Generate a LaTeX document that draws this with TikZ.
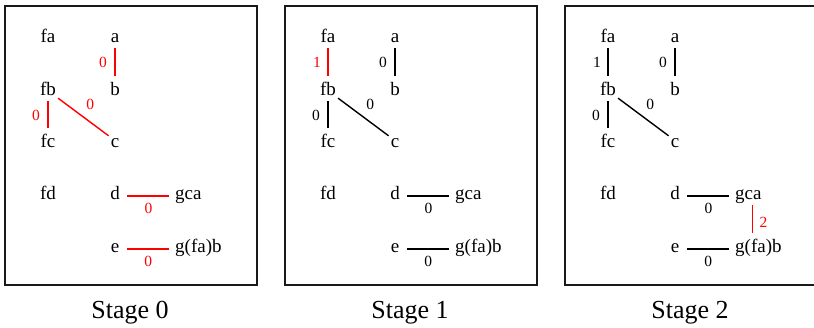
\documentclass[tikz,border=0pt]{standalone}
\usepackage{fontspec}
\setmainfont{Liberation Serif}
\tikzset{
  lbl/.style={font=\fontsize{19}{22}\selectfont, inner sep=0pt, text height=12pt, text depth=4pt, anchor=base},
  lblw/.style={lbl, anchor=base west},
  elab/.style={font=\fontsize{15.5}{18}\selectfont, inner sep=0pt, anchor=center},
  edge/.style={line width=1.4pt},
  vedge/.style={edge, shorten <=1pt, shorten >=7.5pt},
  hedge/.style={edge, shorten <=7.25pt, shorten >=6pt},
  stagebox/.style={draw=black!90, line width=1.7pt},
  stagelbl/.style={font=\fontsize{26}{30}\selectfont, inner sep=0pt, anchor=base},
}
\begin{document}
\begin{tikzpicture}[x=1pt,y=-1pt]
\useasboundingbox (0,0) rectangle (814,328);
\clip (0,0) rectangle (814,328);
% ---------------- Stage 0 ----------------
\begin{scope}
\node[stagebox, minimum width=252pt, minimum height=279pt, anchor=north west, inner sep=0pt] (box0) at (4,5) {};
\node[lbl] (s0fa) at (48,43) {fa};
\node[lbl] (s0a) at (115,43) {a};
\node[lbl] (s0fb) at (48,96) {fb};
\node[lbl] (s0b) at (115,96) {b};
\node[lbl] (s0fc) at (48,148) {fc};
\node[lbl] (s0c) at (115,148) {c};
\node[lbl] (s0fd) at (48,200) {fd};
\node[lbl] (s0d) at (115,200) {d};
\node[lblw] (s0gca) at (175,200) {gca};
\node[lbl] (s0e) at (115,253) {e};
\node[lblw] (s0gfab) at (175,253) {g(fa)b};
\draw[vedge, red] (s0a.south) -- (s0b.north) node[elab, midway, xshift=-12pt, yshift=3pt] {0};
\draw[vedge, red] (s0fb.south) -- (s0fc.north) node[elab, midway, xshift=-12pt, yshift=3pt] {0};
\draw[edge, red] ([xshift=2pt,yshift=2pt]s0fb.south east) -- ([xshift=-2pt]s0c.north west) node[elab, midway, xshift=7pt, yshift=13pt] {0};
\draw[hedge, red] (s0d.east) -- (s0gca.west) node[elab, midway, xshift=1pt, yshift=-12pt] {0};
\draw[hedge, red] (s0e.east) -- (s0gfab.west) node[elab, midway, xshift=1pt, yshift=-12pt] {0};
\node[stagelbl] (st0) at (130,319) {Stage 0};
\end{scope}
% ---------------- Stage 1 ----------------
\begin{scope}[xshift=280pt]
\node[stagebox, minimum width=252pt, minimum height=279pt, anchor=north west, inner sep=0pt] (box1) at (4,5) {};
\node[lbl] (s1fa) at (48,43) {fa};
\node[lbl] (s1a) at (115,43) {a};
\node[lbl] (s1fb) at (48,96) {fb};
\node[lbl] (s1b) at (115,96) {b};
\node[lbl] (s1fc) at (48,148) {fc};
\node[lbl] (s1c) at (115,148) {c};
\node[lbl] (s1fd) at (48,200) {fd};
\node[lbl] (s1d) at (115,200) {d};
\node[lblw] (s1gca) at (175,200) {gca};
\node[lbl] (s1e) at (115,253) {e};
\node[lblw] (s1gfab) at (175,253) {g(fa)b};
\draw[vedge, red] (s1fa.south) -- (s1fb.north) node[elab, midway, xshift=-11pt, yshift=3pt] {1};
\draw[vedge] (s1a.south) -- (s1b.north) node[elab, midway, xshift=-12pt, yshift=3pt] {0};
\draw[vedge] (s1fb.south) -- (s1fc.north) node[elab, midway, xshift=-12pt, yshift=3pt] {0};
\draw[edge] ([xshift=2pt,yshift=2pt]s1fb.south east) -- ([xshift=-2pt]s1c.north west) node[elab, midway, xshift=7pt, yshift=13pt] {0};
\draw[hedge] (s1d.east) -- (s1gca.west) node[elab, midway, xshift=1pt, yshift=-12pt] {0};
\draw[hedge] (s1e.east) -- (s1gfab.west) node[elab, midway, xshift=1pt, yshift=-12pt] {0};
\node[stagelbl] (st1) at (130,319) {Stage 1};
\end{scope}
% ---------------- Stage 2 ----------------
\begin{scope}[xshift=560pt]
\node[stagebox, minimum width=252pt, minimum height=279pt, anchor=north west, inner sep=0pt] (box2) at (4,5) {};
\node[lbl] (s2fa) at (48,43) {fa};
\node[lbl] (s2a) at (115,43) {a};
\node[lbl] (s2fb) at (48,96) {fb};
\node[lbl] (s2b) at (115,96) {b};
\node[lbl] (s2fc) at (48,148) {fc};
\node[lbl] (s2c) at (115,148) {c};
\node[lbl] (s2fd) at (48,200) {fd};
\node[lbl] (s2d) at (115,200) {d};
\node[lblw] (s2gca) at (175,200) {gca};
\node[lbl] (s2e) at (115,253) {e};
\node[lblw] (s2gfab) at (175,253) {g(fa)b};
\draw[vedge] (s2fa.south) -- (s2fb.north) node[elab, midway, xshift=-11pt, yshift=3pt] {1};
\draw[vedge] (s2a.south) -- (s2b.north) node[elab, midway, xshift=-12pt, yshift=3pt] {0};
\draw[vedge] (s2fb.south) -- (s2fc.north) node[elab, midway, xshift=-12pt, yshift=3pt] {0};
\draw[edge] ([xshift=2pt,yshift=2pt]s2fb.south east) -- ([xshift=-2pt]s2c.north west) node[elab, midway, xshift=7pt, yshift=13pt] {0};
\draw[hedge] (s2d.east) -- (s2gca.west) node[elab, midway, xshift=1pt, yshift=-12pt] {0};
\draw[hedge] (s2e.east) -- (s2gfab.west) node[elab, midway, xshift=1pt, yshift=-12pt] {0};
\draw[vedge, red] ([xshift=4pt]s2gca.south) -- ([xshift=4pt]s2gca.south |- s2gfab.north) node[elab, midway, xshift=11pt, yshift=0pt] {2};
\node[stagelbl] (st2) at (130,319) {Stage 2};
\end{scope}
\end{tikzpicture}
\end{document}
